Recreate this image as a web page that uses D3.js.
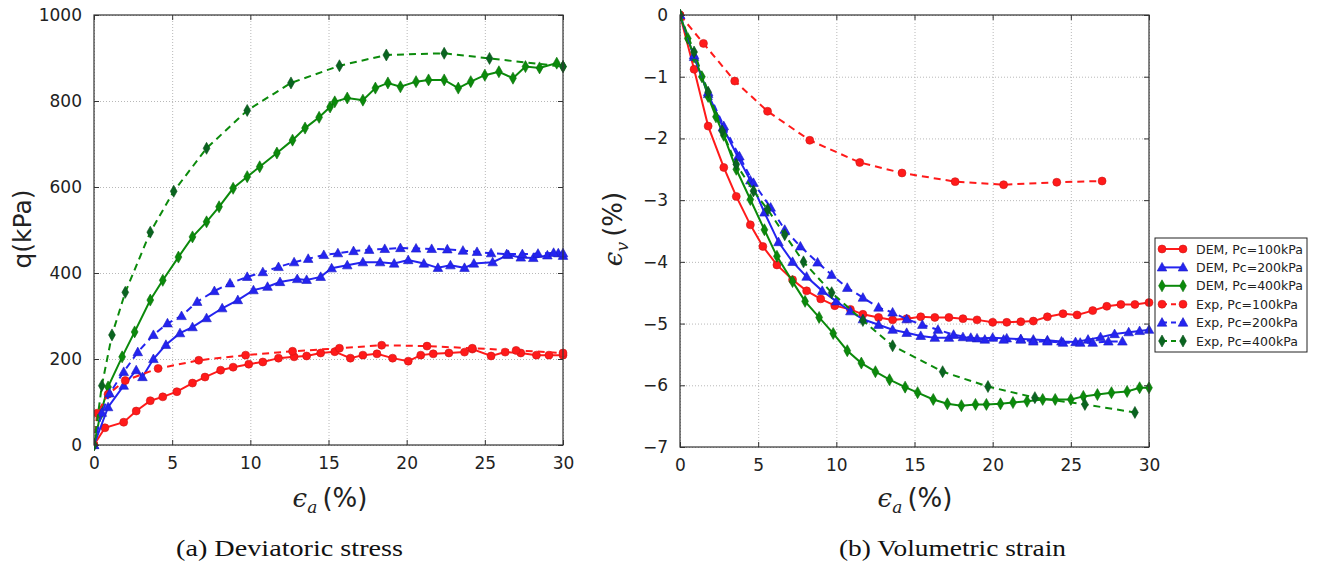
<!DOCTYPE html>
<html lang="en">
<head>
  <meta charset="UTF-8" />
  <title>Deviatoric stress and volumetric strain</title>
  <script src="https://d3js.org/d3.v7.min.js"></script>
  <style>
    body { margin: 0; background: white; }
    svg { background: white; display: block; }
    .tick-label { font-family: "DejaVu Sans", sans-serif; font-size: 17px; fill: #222; }
    .legend-label { font-family: "DejaVu Sans", sans-serif; font-size: 12.5px; fill: #222; }
    .caption { font-family: "Liberation Serif", serif; font-size: 24px; fill: #111; }
    .grid line { stroke: #b8b8b8; stroke-width: 1; stroke-dasharray: 1,2; }
  </style>
</head>
<body>
  <svg width="1317" height="566"></svg>
  <script>
    // axial strain (%) vs deviatoric stress q (kPa)
    const demQ100 = [[0,0],[0.7,40],[1.9,53],[2.7,79],[3.6,103],[4.4,112],[5.3,124],[6.3,144],[7.1,158],[8.1,174],[8.9,181],[9.9,188],[10.8,193],[11.8,202],[12.8,205],[13.6,207],[14.5,214],[15.4,217],[16.4,202],[17.2,209],[18.1,212],[19.1,202],[20.1,195],[20.9,209],[21.7,212],[22.7,214],[23.7,216],[24.2,223],[25.4,207],[26.3,216],[27.3,214],[28.3,209],[29.1,209],[30,209]];
    const demQ200 = [[0,0],[0.9,88],[1.9,138],[2.7,174],[3.1,158],[3.8,200],[4.6,233],[5.5,260],[6.3,274],[7.2,295],[8.2,318],[9.2,337],[10.2,360],[11.1,368],[11.9,379],[13.0,386],[13.6,384],[14.5,391],[15.2,411],[16.2,418],[17.2,425],[18.3,425],[19.2,422],[20.1,430],[21.1,422],[22.0,412],[22.8,418],[23.7,412],[24.3,422],[25.5,425],[26.5,442],[27.3,436],[28.1,435],[29.0,441],[29.7,446],[30,440]];
    const demQ400 = [[0,0],[0.4,70],[0.9,135],[1.8,205],[2.6,263],[3.6,337],[4.4,383],[5.4,437],[6.3,484],[7.2,519],[8.0,554],[8.9,597],[9.8,624],[10.6,647],[11.7,679],[12.7,709],[13.5,737],[14.4,762],[15.1,786],[15.4,798],[16.2,807],[17.2,802],[18.0,830],[18.8,842],[19.6,833],[20.6,845],[21.4,849],[22.4,849],[23.3,830],[24.1,845],[25.0,860],[25.9,868],[26.8,853],[27.6,880],[28.5,877],[29.6,888],[30,880]];
    const expQ100 = [[0,0],[0.2,74],[0.9,118],[2.0,150],[4.1,178],[6.7,197],[9.7,209],[12.7,218],[15.7,225],[18.4,232],[21.3,230],[24.2,225],[27.0,220],[30,214]];
    const expQ200 = [[0,0],[0.5,75],[1.0,120],[1.9,170],[2.8,216],[3.8,256],[4.7,283],[5.6,300],[6.6,333],[7.7,358],[8.7,376],[9.8,391],[10.8,402],[11.8,414],[12.8,425],[13.7,433],[14.7,442],[15.6,446],[16.6,451],[17.6,454],[18.6,456],[19.6,458],[20.6,457],[21.6,456],[22.6,455],[23.6,452],[24.5,449],[25.4,446],[26.4,444],[27.4,444],[28.4,445],[29.4,447],[30,446]];
    const expQ400 = [[0,0],[0.5,138],[1.15,256],[2.0,355],[3.6,495],[5.1,590],[7.2,690],[9.8,778],[12.6,842],[15.7,882],[18.7,907],[22.4,911],[25.3,899],[30,880]];

    // axial strain (%) vs volumetric strain (%)
    const demV100 = [[0,0],[0.9,-0.88],[1.8,-1.8],[2.8,-2.47],[3.6,-2.94],[4.5,-3.4],[5.3,-3.75],[6.2,-4.05],[7.2,-4.29],[8.1,-4.47],[9.0,-4.6],[9.9,-4.71],[10.9,-4.77],[11.7,-4.85],[12.7,-4.9],[13.6,-4.94],[14.5,-4.92],[15.4,-4.89],[16.3,-4.9],[17.2,-4.9],[18.1,-4.92],[19.0,-4.94],[20.0,-4.98],[20.9,-4.98],[21.8,-4.97],[22.6,-4.96],[23.5,-4.89],[24.5,-4.84],[25.4,-4.86],[26.4,-4.79],[27.3,-4.72],[28.2,-4.69],[29.1,-4.69],[30,-4.66]];
    const demV200 = [[0,0],[0.9,-0.68],[1.8,-1.28],[2.75,-1.82],[3.7,-2.3],[4.5,-2.68],[5.4,-3.2],[6.3,-3.68],[7.2,-4.0],[8.1,-4.24],[9.1,-4.47],[10.0,-4.64],[10.9,-4.8],[11.7,-4.93],[12.7,-5.02],[13.6,-5.1],[14.5,-5.15],[15.4,-5.2],[16.3,-5.23],[17.2,-5.23],[18.1,-5.22],[19.0,-5.24],[20.0,-5.23],[20.9,-5.24],[21.8,-5.25],[22.6,-5.26],[23.5,-5.27],[24.4,-5.29],[25.3,-5.3],[26.1,-5.26],[26.9,-5.22],[27.8,-5.17],[28.7,-5.14],[29.4,-5.12],[30,-5.1]];
    const demV400 = [[0,0],[0.5,-0.38],[0.9,-0.68],[1.4,-1.0],[1.8,-1.32],[2.3,-1.65],[2.8,-1.95],[3.6,-2.5],[4.5,-2.99],[5.4,-3.48],[6.2,-3.91],[7.2,-4.32],[8.0,-4.64],[8.9,-4.9],[9.8,-5.16],[10.7,-5.44],[11.6,-5.64],[12.5,-5.78],[13.4,-5.91],[14.4,-6.03],[15.2,-6.12],[16.2,-6.23],[17.1,-6.3],[18.0,-6.33],[18.9,-6.31],[19.6,-6.31],[20.5,-6.3],[21.3,-6.28],[22.2,-6.26],[23.2,-6.23],[24.0,-6.23],[25.0,-6.23],[25.8,-6.18],[26.7,-6.15],[27.6,-6.12],[28.6,-6.1],[29.4,-6.04],[30,-6.04]];
    const expV100 = [[0,0],[1.5,-0.46],[3.5,-1.07],[5.6,-1.56],[8.3,-2.03],[11.5,-2.39],[14.2,-2.56],[17.6,-2.7],[20.7,-2.75],[24.1,-2.71],[27.0,-2.69]];
    const expV200 = [[0,0],[0.9,-0.65],[1.8,-1.25],[2.8,-1.8],[3.8,-2.29],[4.7,-2.72],[5.8,-3.12],[6.7,-3.48],[7.7,-3.75],[8.8,-4.01],[9.7,-4.21],[10.7,-4.42],[11.7,-4.58],[12.7,-4.74],[13.6,-4.82],[14.5,-4.93],[15.5,-5.02],[16.5,-5.1],[17.5,-5.18],[18.6,-5.23],[19.5,-5.26],[20.7,-5.26],[21.8,-5.26],[22.6,-5.29],[23.5,-5.29],[24.5,-5.31],[25.6,-5.31],[26.4,-5.31],[27.4,-5.29],[28.3,-5.29]];
    const expV400 = [[0,0],[0.9,-0.6],[1.8,-1.25],[2.7,-1.88],[3.6,-2.42],[4.7,-2.85],[5.6,-3.15],[6.7,-3.56],[7.9,-4.0],[9.7,-4.5],[11.7,-4.95],[13.6,-5.36],[16.8,-5.78],[19.7,-6.02],[22.7,-6.2],[25.9,-6.31],[29.1,-6.44]];

    const xTicks = [0, 5, 10, 15, 20, 25, 30];
    const qTicks = [0, 200, 400, 600, 800, 1000];
    const evTicks = [0, -1, -2, -3, -4, -5, -6, -7];
    const seriesNames = ["DEM, Pc=100kPa", "DEM, Pc=200kPa", "DEM, Pc=400kPa", "Exp, Pc=100kPa", "Exp, Pc=200kPa", "Exp, Pc=400kPa"];

    const red = "#ff1a1a", blue = "#2424f0", green = "#0b8a0b", darkGreen = "#0a6420";

    // style for each of the six series, same order as seriesNames
    const styles = [
      { color: red,   marker: "circle",   dash: null },
      { color: blue,  marker: "triangle", dash: null },
      { color: green, marker: "diamond",  dash: null },
      { color: red,   marker: "circle",   dash: "7,5" },
      { color: blue,  marker: "triangle", dash: "7,5" },
      { color: green, marker: "diamond",  dash: "7,5", fill: darkGreen }
    ];

    const svg = d3.select("svg");

    function markerPath(type) {
      if (type === "circle") return d3.symbol(d3.symbolCircle, 50)();
      if (type === "triangle") return "M0,-5L4.8,3.6L-4.8,3.6Z";
      return "M0,-6L3.4,0L0,6L-3.4,0Z";
    }

    function drawMarkers(g, pts, st) {
      g.selectAll(null)
        .data(pts)
        .enter()
        .append("path")
        .attr("d", markerPath(st.marker))
        .attr("transform", d => `translate(${d[0]},${d[1]})`)
        .attr("fill", st.fill || st.color)
        .attr("stroke", d3.color(st.fill || st.color).darker(0.6))
        .attr("stroke-width", 0.6);
    }

    function panel(opts) {
      const { left, right, top, bottom, yDomain, yTicks, series } = opts;
      const x = d3.scaleLinear().domain([0, 30]).range([left, right]);
      const y = d3.scaleLinear().domain(yDomain).range([bottom, top]);
      const g = svg.append("g");

      // dotted grid
      g.append("g").attr("class", "grid")
        .attr("transform", `translate(0,${bottom})`)
        .call(d3.axisBottom(x).tickValues(xTicks).tickSize(-(bottom - top)).tickFormat(""))
        .call(a => a.select(".domain").remove());
      g.append("g").attr("class", "grid")
        .attr("transform", `translate(${left},0)`)
        .call(d3.axisLeft(y).tickValues(yTicks).tickSize(-(right - left)).tickFormat(""))
        .call(a => a.select(".domain").remove());

      // curves
      const line = d3.line().x(d => x(d[0])).y(d => y(d[1]));
      const clipId = "clip" + left;
      svg.append("clipPath").attr("id", clipId)
        .append("rect").attr("x", left).attr("y", top - 8).attr("width", right - left + 8).attr("height", bottom - top + 16);
      const plot = g.append("g").attr("clip-path", `url(#${clipId})`);
      series.forEach((pts, i) => {
        const st = styles[i];
        plot.append("path")
          .datum(pts)
          .attr("d", line)
          .attr("fill", "none")
          .attr("stroke", st.color)
          .attr("stroke-width", 2)
          .attr("stroke-dasharray", st.dash);
        drawMarkers(plot.append("g"), pts.map(d => [x(d[0]), y(d[1])]), st);
      });

      // frame with inward ticks on all sides
      const frame = g.append("g").attr("fill", "none").attr("stroke", "#333").attr("stroke-width", 1.2);
      frame.append("rect").attr("x", left).attr("y", top).attr("width", right - left).attr("height", bottom - top);
      const bx = g.append("g").attr("transform", `translate(0,${bottom})`)
        .call(d3.axisBottom(x).tickValues(xTicks).tickSizeInner(-5).tickSizeOuter(0).tickPadding(12));
      const tx = g.append("g").attr("transform", `translate(0,${top})`)
        .call(d3.axisTop(x).tickValues(xTicks).tickSizeInner(-5).tickSizeOuter(0).tickFormat(""));
      const ly = g.append("g").attr("transform", `translate(${left},0)`)
        .call(d3.axisLeft(y).tickValues(yTicks).tickSizeInner(-5).tickSizeOuter(0).tickPadding(12)
          .tickFormat(d => String(d).replace("-", "\u2212")));
      const ry = g.append("g").attr("transform", `translate(${right},0)`)
        .call(d3.axisRight(y).tickValues(yTicks).tickSizeInner(-5).tickSizeOuter(0).tickFormat(""));
      [bx, tx, ly, ry].forEach(a => {
        a.select(".domain").remove();
        a.selectAll("line").attr("stroke", "#333");
        a.selectAll("text").attr("class", "tick-label").attr("font-size", null).attr("font-family", null);
      });
      return { x, y };
    }

    // (a) deviatoric stress
    panel({ left: 94, right: 563, top: 15, bottom: 445, yDomain: [0, 1000], yTicks: qTicks,
            series: [demQ100, demQ200, demQ400, expQ100, expQ200, expQ400] });
    // (b) volumetric strain
    panel({ left: 680, right: 1149, top: 15, bottom: 447, yDomain: [-7, 0], yTicks: evTicks,
            series: [demV100, demV200, demV400, expV100, expV200, expV400] });

    // axis titles
    function epsLabel(sub, xPos, yPos, rotate) {
      const t = svg.append("text")
        .attr("text-anchor", "middle")
        .attr("font-size", 26)
        .attr("fill", "#222")
        .attr("transform", `translate(${xPos},${yPos})` + (rotate ? " rotate(-90)" : ""));
      t.append("tspan").attr("font-family", "DejaVu Serif, serif").attr("font-style", "italic").text("\u03F5");
      t.append("tspan").attr("font-family", "DejaVu Serif, serif").attr("font-style", "italic")
        .attr("font-size", 17).attr("dy", 6).text(sub);
      t.append("tspan").attr("font-family", "DejaVu Sans, sans-serif").attr("dy", -6).text("\u2009(%)");
    }
    epsLabel("a", 330, 507, false);
    epsLabel("a", 915, 507, false);
    epsLabel("v", 622, 229, true);

    svg.append("text")
      .attr("transform", "translate(31,229) rotate(-90)")
      .attr("text-anchor", "middle")
      .attr("font-family", "DejaVu Sans, sans-serif")
      .attr("font-size", 25)
      .attr("fill", "#222")
      .text("q(kPa)");

    // legend
    const lg = svg.append("g").attr("transform", "translate(1155,238)");
    lg.append("rect").attr("width", 152).attr("height", 114)
      .attr("fill", "white").attr("stroke", "#222").attr("stroke-width", 1);
    seriesNames.forEach((name, i) => {
      const st = styles[i];
      const yy = 11 + i * 18.4;
      lg.append("line").attr("x1", 7).attr("x2", 28).attr("y1", yy).attr("y2", yy)
        .attr("stroke", st.color).attr("stroke-width", 2).attr("stroke-dasharray", st.dash ? "5,4" : null);
      drawMarkers(lg.append("g"), [[7, yy], [28, yy]], st);
      lg.append("text").attr("class", "legend-label").attr("x", 41).attr("y", yy + 4.5).text(name);
    });

    // sub-figure captions
    svg.append("text").attr("class", "caption").attr("x", 176).attr("y", 556)
      .attr("textLength", 227).attr("lengthAdjust", "spacingAndGlyphs").text("(a) Deviatoric stress");
    svg.append("text").attr("class", "caption").attr("x", 839).attr("y", 556)
      .attr("textLength", 227).attr("lengthAdjust", "spacingAndGlyphs").text("(b) Volumetric strain");
  </script>
</body>
</html>
